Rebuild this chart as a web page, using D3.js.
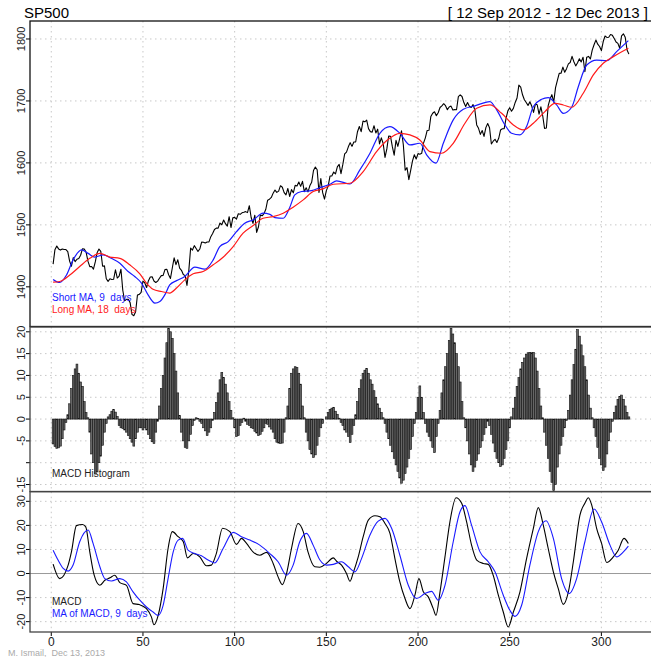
<!DOCTYPE html>
<html>
<head>
<meta charset="utf-8">
<script src="https://cdn.jsdelivr.net/npm/d3@7"></script>
<style>
  html, body { margin: 0; padding: 0; background: #fff; }
  svg { display: block; font-family: "Liberation Sans", Arial, sans-serif; }
  svg text { white-space: pre; }
</style>
</head>
<body>
<svg id="chart" width="651" height="657"></svg>
<script>
// S&P 500 daily closes, trading days 1..315 (12 Sep 2012 - 12 Dec 2013)
const closes = [
1436.56,1459.99,1465.77,1461.19,1459.32,1461.05,1460.26,1460.15,1456.89,1441.59,1433.32,1447.15,1440.67,
1444.49,1445.75,1450.99,1461.40,1460.93,1455.88,1441.48,1432.56,1432.84,1428.59,1440.13,1454.92,1460.91,1457.34,1433.19,1433.82,1413.11,1408.75,1412.97,1411.94,1412.16,
1427.59,1414.20,1417.26,1428.39,1394.53,1377.51,1379.85,1380.03,1374.53,1355.49,1353.33,1359.88,1386.89,1387.81,1391.03,1409.15,1406.29,1398.94,1409.93,1415.95,1416.18,
1409.46,1407.05,1409.28,1413.94,1418.07,1418.55,1427.84,1428.48,1419.45,1413.58,1430.36,1446.79,1435.81,1443.69,1430.15,1426.66,1419.83,1418.10,1402.43,1426.19,
1462.42,1459.37,1466.47,1461.89,1457.15,1461.02,1472.12,1472.05,1470.68,1472.34,1472.63,1480.94,1485.98,1492.56,1494.81,1494.82,1502.96,1500.18,1507.84,1501.96,1498.11,
1513.17,1495.71,1511.29,1512.12,1509.39,1517.93,1517.01,1519.43,1520.33,1521.38,1519.79,1530.94,1511.95,1502.42,1515.60,1487.85,1496.94,1515.99,1514.68,
1518.20,1525.20,1539.79,1541.46,1544.26,1551.18,1556.22,1552.48,1554.52,1563.23,1560.70,1552.10,1548.34,1558.71,1545.80,1556.89,1551.69,1563.77,1562.85,1569.19,
1562.17,1570.25,1553.69,1559.98,1553.28,1563.07,1568.61,1587.73,1593.37,1588.85,1552.36,1574.57,1552.01,1541.61,1555.25,1562.50,1578.78,1578.79,1585.16,1582.24,1593.61,1597.57,
1582.70,1597.59,1614.42,1617.50,1625.96,1632.69,1626.67,1633.70,1633.77,1650.34,1658.78,1650.47,1667.47,1666.29,1669.16,1655.35,1650.51,1649.60,1660.06,1648.36,1654.41,1630.74,
1640.42,1631.38,1608.90,1622.56,1643.38,1642.81,1626.13,1612.52,1636.36,1626.73,1639.04,1651.81,1628.93,1588.19,1592.43,1573.09,1588.03,1603.26,1613.20,1606.28,
1614.96,1614.08,1615.41,1631.89,1640.46,1652.32,1652.62,1675.02,1680.19,1682.50,1676.26,1680.91,1689.37,1692.09,1695.53,1692.39,1685.94,1690.25,1691.65,1685.33,1685.96,1685.73,
1706.87,1709.67,1707.14,1697.37,1690.91,1697.48,1691.42,1689.47,1694.16,1685.39,1661.32,1655.83,1646.06,1652.35,1642.80,1656.96,1663.50,1656.78,1630.48,1634.96,1638.17,1632.97,
1639.77,1653.08,1655.08,1655.17,1671.71,1683.99,1689.13,1683.42,1687.99,1697.60,1704.76,1725.52,1722.34,1709.91,1701.84,1697.42,1692.77,1698.67,1691.75,1681.55,
1695.00,1693.87,1678.66,1690.50,1676.12,1655.45,1656.40,1692.56,1703.20,1710.14,1698.06,1721.54,1733.15,1744.50,1744.66,1754.67,1746.38,1752.07,1759.77,1762.11,1771.95,1763.31,1756.54,
1761.64,1767.93,1762.97,1770.49,1747.15,1770.61,1771.89,1767.69,1782.00,1790.62,1798.18,1791.53,1787.87,1781.37,1795.85,1804.76,1802.48,1802.75,1807.23,1805.81,
1800.90,1795.15,1792.81,1785.03,1805.09,1808.37,1802.62,1782.22,1775.50
];

// Short moving average (9 days): day positions and values
const shortDays = [1,4.6,8.3,11.9,16.5,20.1,23.7,28.3,32.8,37.4,41.9,45.5,49.2,52.8,56.5,59.2,61.9,64.6,68.3,72.8,78.3,83.7,88.3,91.9,96.5,101,105.5,110.1,115.5,119.2,121.9,126.5,130.1,132.8,136.5,141.9,146.5,152,155.6,162.9,168.3,173.8,179.2,184.7,190.1,195.6,201,204.7,209.8,213.8,219.2,224.7,231,239.2,242.9,247.4,251,255.6,259.2,262.9,267.4,271,275.6,279.2,283.8,287.4,292,297.4,302.9,308.3,314.7];
const shortVals = [1412,1407,1419,1443.5,1459.7,1454,1448,1451.6,1446,1438,1424.7,1416.7,1406,1387,1373.7,1376.3,1387,1403,1410,1416.7,1431.7,1428.5,1443.5,1465,1473,1489,1502.7,1508,1518.8,1517,1511.8,1510.7,1528.5,1548.4,1553.8,1555.4,1560,1565.5,1571,1566,1588.7,1615.6,1647.8,1658.6,1647.8,1629,1631.7,1613,1599.5,1631.7,1669.4,1686.6,1692,1699,1685.5,1661.3,1647.8,1645.2,1658.6,1690.9,1702.7,1705.4,1693.5,1680,1689.8,1723,1758,1766,1765,1779.6,1797.3];

// Long moving average (18 days)
const longDays = [1,4.6,10.1,15.5,21,26.5,31.9,37.4,42.8,48.3,51.9,55.5,60.1,64.6,68.3,72.8,77.4,82.8,88.3,93.7,99.2,104.6,110.1,115.5,121,126.5,131.9,137.4,142.8,148.2,153.8,162.9,170.1,177.4,183.8,190.1,195.6,201,206.5,212.9,219.2,225.6,232,239.2,245.6,252,257.4,262.9,269.2,274.7,279.2,283.8,290.1,295.6,301,306.5,314.7];
const longVals = [1407.5,1408.6,1419,1432.8,1446,1454,1448,1446,1435.5,1421,1406,1396,1392.5,1390,1398,1411.3,1421,1424.7,1435.5,1447.8,1465,1486.6,1499,1510.7,1513.4,1518.8,1528.5,1540.3,1553.8,1558,1565.6,1567.2,1586,1618.3,1638.2,1647.8,1645.2,1637,1618.3,1615.6,1631.7,1664,1688.2,1693.5,1680,1661.3,1653.2,1664,1682.8,1696.2,1693.5,1689.8,1712.4,1742,1760.8,1771.5,1785];

// MACD histogram, one bar per trading day (days 1..315)
const histVals = [
-5.7,-6.3,-6.7,-6.6,-6.2,-4.5,-2.5,-0.8,1.0,3.5,7,10,11.5,12.6,10.5,8.5,7.5,4,1.5,0.3,
-3,-8,-10,-12.6,-12,-10,-8.5,-6,-3,-1,0.5,1,1.8,2.2,1.6,0.6,-1.5,-2,-2.2,-2.5,
-3,-3.8,-4.5,-5.3,-6.2,-4.5,-3,-2,-2,-2.5,-2,-2.5,-3.5,-4.5,-5.2,-5.6,-3,-0.5,3,7,
10,14,17.5,20.8,20,18.5,15,11,6,0.8,-3,-5,-6.5,-6.7,-5,-3.5,-1.5,-0.3,0.3,0.1,
-0.5,-1,-2,-2.7,-3.8,-3,-2,-0.3,1.5,3.8,6,9,10.7,9.5,8,6,4,2,0.3,-2,
-4,-3.8,-1.5,-0.8,0.2,-0.5,-1.2,-1.5,-2,-2.2,-2.8,-3.2,-3.8,-3.5,-2.8,-2,-1,-1.2,-1.8,-2.3,
-3,-4.5,-5.3,-5.5,-5.6,-5.5,-3,0.3,3,7,10.5,11.5,12,11.8,10.5,8,3,0.3,-3,-5,
-7,-8,-8.8,-8.2,-6,-4,-2,-1,0,0.5,1.5,2.2,2.5,2.7,1.8,1.1,0.2,-0.8,-1.5,-2.5,
-3,-4,-5.4,-3.5,-1.5,1,4,7,9,10.5,11.2,11.6,10.5,9,8,6.5,5,3.5,2.5,1.5,
0.3,-1,-3,-4.5,-6,-7.5,-9,-10.5,-12,-13.5,-14.7,-14,-12.5,-11,-9,-7,-4,-1,1.5,5,
7.6,5,1.5,-1,-3,-4,-5,-6.5,-7.7,-4,-1,2,6,9,12,15,18,20.8,19.5,17.5,
15,12,8.5,4,0.3,-2,-5,-8,-10.5,-12,-11,-9.5,-8,-6.5,-5,-3.5,-2,-0.5,-1.5,-3.5,
-5.5,-7.5,-9,-10,-10.9,-10.5,-9,-7,-5,-2,0.5,2.5,5,7.5,9.5,11.5,13,14,14.8,15.2,
15.3,15.2,15.3,14,11,7,3,0.3,-3,-6,-9,-12,-14.5,-16.4,-15,-11,-8,-6,-4,-2,
-0.3,2,5.5,9,12.5,16,20.5,19,17,14.5,12,9,5.5,2.5,0.3,-2,-4,-6.5,-9,-10.5,
-11.8,-11,-8,-5,-3,-0.5,1.5,3,4.5,5.2,5.5,4.5,3,1.5,0.5
];

// MACD line
const macdDays = [1,4.6,9.2,11,13.7,17,18.8,21,23.4,26.5,29.2,32,34.6,37.4,41,44.6,48,51.9,54.6,56,58.3,61,63.7,66,69.2,72,74.3,77.4,81,84.6,87.3,90,93.4,97.4,101,103.7,106.5,110,113.7,117.4,121,123.7,126,128.3,131,134.6,137.4,140,143.7,146.5,150.1,153.8,155.6,158.3,161,162.9,164.7,167.4,170.1,172.9,176.5,179.2,182,184.7,187.4,190.1,192.9,195.6,198.3,200.5,202.9,205.6,208.3,209.8,212,214.7,217.4,220.7,223.8,226.5,229.2,232,235.6,238.3,241,243.8,246.5,249.2,252,255.6,259.2,262.9,265.6,268.3,271,273.8,276.5,279.2,282,284.7,288.3,291,292.9,294.7,297.4,300.1,302.9,306.5,309.2,312.3,314.7];
const macdVals = [3.9,-2.1,3.5,9,19.9,20.4,19.4,9,-0.7,-4.9,-2.8,-1.8,-0.7,-3.8,-4.9,-12.5,-12.9,-14.6,-18,-21.3,-17.4,-6.3,10.4,17.4,15.3,13.2,6.5,8.3,6.9,3.2,3.5,8.3,18.8,17.4,12.1,14.6,12.5,9,7.6,8.8,4.2,-1.4,-4.6,0,10.4,20.8,17.4,9,2.8,2.6,4.2,6.5,5.1,3.5,0,-3.2,0.4,6.9,15.3,22.2,24,23.6,20.8,16.7,6.2,-3.5,-10.4,-14.6,-9,-2.1,-7.6,-9.7,-14.6,-17.4,-7.6,6.9,21.5,31.5,29.2,21.5,11.8,5.6,4.2,3.8,-0.7,-9,-16,-22.2,-16,-7.6,6.2,18.8,27.4,20.1,10.4,0.7,-6.3,-12.8,-7.6,4.9,24.3,29.2,31.5,28.5,18.8,12.5,4.6,6.9,9.7,14.6,12.5];

// Signal line: moving average of MACD (9 days)
const signalDays = [1,3.7,6.5,9.2,11.9,15.5,20.1,22.8,26.5,29.2,32.8,37.4,41,44.6,48.3,51.9,55.5,58.3,61,63.7,66.5,69.2,71.6,74.6,78.3,81.9,85.5,89.2,93.7,99.2,103.7,108.3,113.7,119.2,123.7,128.3,131.9,135.5,139.2,142.8,146.5,150.1,153.8,158.3,162,165.6,169.2,173.8,178.3,182,185.6,190.1,194.7,199.2,203.8,207.4,211,214.7,219.2,222.9,225.6,229.2,233.8,238.3,242,246.5,250.1,252.9,256.5,261,265.6,269.8,273.8,278.3,282.5,286.5,291,296,300.1,304.7,308.3,312,314.7];
const signalVals = [9.7,5.6,2.1,1,3.5,13.2,18.1,12.5,2.8,-2.1,-3.1,-2.1,-3.5,-7.6,-11.1,-13.9,-16,-17.4,-13.2,-2.1,9,13.9,14.6,9.7,8.3,7.4,5.6,4.4,10.4,17.1,15.3,13.9,11.8,8.3,4.9,-0.7,3.5,13.2,16.7,11.8,5.6,3.5,3.8,4.9,2.8,0.7,6.2,16,21.8,22.9,18.8,7.6,-4.9,-10.4,-8.3,-7.4,-11.1,-4.9,13.2,25.7,28.2,20.1,9,4.9,0.7,-9,-15.3,-17.8,-13.2,3.5,17.4,21.9,14.6,-2.1,-8.3,-2.1,13.2,26.8,21.5,11.8,6.9,9,11.4];

// Axis ticks
const xTicks = [0, 50, 100, 150, 200, 250, 300];
const priceTicks = [1400, 1500, 1600, 1700, 1800];
const histTicks = [20, 15, 10, 5, 0, -5, -10, -15];
const histLabelled = [20, 15, 10, 5, 0, -5, -15];
const macdTicks = [30, 20, 10, 0, -10, -20];

const svg = d3.select("#chart");
const W = 651;
const left = 30, right = 652;

const x = d3.scaleLinear().domain([-11.6, 327.6]).range([left, right]);

const panels = {
  price: { top: 21, bottom: 326.5 },
  hist:  { top: 327, bottom: 491.5 },
  macd:  { top: 491.7, bottom: 632 }
};

const yPrice = d3.scaleLinear().domain([1336, 1829]).range([panels.price.bottom, panels.price.top]);
const yHist = d3.scaleLinear().domain([-16.6, 21.1]).range([panels.hist.bottom, panels.hist.top]);
const yMacd = d3.scaleLinear().domain([-24.3, 34]).range([panels.macd.bottom, panels.macd.top]);

const gridColor = "#c8c8c8";

function drawGrid(panel, yScale, ticks) {
  const g = svg.append("g");
  g.selectAll("line.v").data(xTicks).join("line")
    .attr("x1", d => x(d)).attr("x2", d => x(d))
    .attr("y1", panel.top).attr("y2", panel.bottom)
    .attr("stroke", gridColor).attr("stroke-width", 1)
    .attr("stroke-dasharray", "1.5,3.5");
  g.selectAll("line.h").data(ticks).join("line")
    .attr("x1", left).attr("x2", W)
    .attr("y1", d => yScale(d)).attr("y2", d => yScale(d))
    .attr("stroke", gridColor).attr("stroke-width", 1)
    .attr("stroke-dasharray", "1.5,3.5");
}

function drawYAxis(yScale, ticks, labelled) {
  const g = svg.append("g");
  g.selectAll("line").data(ticks).join("line")
    .attr("x1", left - 4).attr("x2", left)
    .attr("y1", d => yScale(d)).attr("y2", d => yScale(d))
    .attr("stroke", "#000").attr("stroke-width", 1);
  g.selectAll("text").data(labelled).join("text")
    .attr("transform", d => `translate(${left - 5},${yScale(d)}) rotate(-90)`)
    .attr("text-anchor", "middle")
    .attr("font-size", 11)
    .attr("fill", "#222")
    .text(d => d);
}

function drawFrame(panel, color) {
  svg.append("rect")
    .attr("x", left).attr("y", panel.top)
    .attr("width", right - left).attr("height", panel.bottom - panel.top)
    .attr("fill", "none").attr("stroke", color).attr("stroke-width", 1.3);
}

// ---------- Price panel ----------
drawGrid(panels.price, yPrice, priceTicks);

const priceLine = d3.line().x((d, i) => x(i + 1)).y(d => yPrice(d));
svg.append("path").datum(closes)
  .attr("d", priceLine).attr("fill", "none")
  .attr("stroke", "#000").attr("stroke-width", 1.1).attr("stroke-linejoin", "round");

const smooth = (xs, ys, yScale) => d3.line()
  .curve(d3.curveMonotoneX)
  .x((d, i) => x(xs[i])).y(d => yScale(d))(ys);

svg.append("path").attr("d", smooth(shortDays, shortVals, yPrice))
  .attr("fill", "none").attr("stroke", "#1a1aff").attr("stroke-width", 1.2);
svg.append("path").attr("d", smooth(longDays, longVals, yPrice))
  .attr("fill", "none").attr("stroke", "#ff1a1a").attr("stroke-width", 1.2);

svg.append("text").attr("x", 52).attr("y", 301).attr("font-size", 10)
  .attr("fill", "#1a1aff").text("Short MA, 9  days");
svg.append("text").attr("x", 52).attr("y", 313).attr("font-size", 10)
  .attr("fill", "#ff1a1a").text("Long MA, 18  days");

drawYAxis(yPrice, priceTicks, priceTicks);

// ---------- Histogram panel ----------
drawGrid(panels.hist, yHist, histTicks);

svg.append("text").attr("x", 52).attr("y", 477).attr("font-size", 10)
  .attr("fill", "#222").text("MACD Histogram");

const bw = x(1) - x(0);
svg.append("g").selectAll("rect").data(histVals).join("rect")
  .attr("x", (d, i) => x(i + 1) - bw / 2)
  .attr("width", bw)
  .attr("y", d => Math.min(yHist(d), yHist(0)))
  .attr("height", d => Math.abs(yHist(d) - yHist(0)))
  .attr("fill", "#666")
  .attr("stroke", "#111")
  .attr("stroke-width", 0.6);

drawYAxis(yHist, histTicks, histLabelled);

// ---------- MACD panel ----------
drawGrid(panels.macd, yMacd, macdTicks);

svg.append("line")
  .attr("x1", left).attr("x2", W)
  .attr("y1", yMacd(0)).attr("y2", yMacd(0))
  .attr("stroke", "#9a9a9a").attr("stroke-width", 1);

svg.append("path").attr("d", smooth(macdDays, macdVals, yMacd))
  .attr("fill", "none").attr("stroke", "#000").attr("stroke-width", 1.1);
svg.append("path").attr("d", smooth(signalDays, signalVals, yMacd))
  .attr("fill", "none").attr("stroke", "#1a1aff").attr("stroke-width", 1.1);

svg.append("text").attr("x", 52).attr("y", 605).attr("font-size", 10)
  .attr("fill", "#222").text("MACD");
svg.append("text").attr("x", 52).attr("y", 617).attr("font-size", 10)
  .attr("fill", "#1a1aff").text("MA of MACD, 9  days");

drawYAxis(yMacd, macdTicks, macdTicks);

// Bottom x axis
const xg = svg.append("g");
xg.selectAll("line").data(xTicks).join("line")
  .attr("x1", d => x(d)).attr("x2", d => x(d))
  .attr("y1", panels.macd.bottom).attr("y2", panels.macd.bottom + 4)
  .attr("stroke", "#000");
xg.selectAll("text").data(xTicks).join("text")
  .attr("x", d => x(d)).attr("y", 646)
  .attr("text-anchor", "middle").attr("font-size", 12)
  .attr("fill", "#222").text(d => d);

// Panel frames
drawFrame(panels.price, "#111");
drawFrame(panels.hist, "#444");
drawFrame(panels.macd, "#444");

// Titles and credit
svg.append("text").attr("x", 24).attr("y", 18).attr("font-size", 15)
  .attr("fill", "#000").text("SP500");
svg.append("text").attr("x", 648).attr("y", 18).attr("font-size", 15)
  .attr("text-anchor", "end").attr("fill", "#000").text("[ 12 Sep 2012 - 12 Dec 2013 ]");
svg.append("text").attr("x", 8).attr("y", 656).attr("font-size", 9)
  .attr("fill", "#aaa").text("M. Ismail,  Dec 13, 2013");
</script>
</body>
</html>
